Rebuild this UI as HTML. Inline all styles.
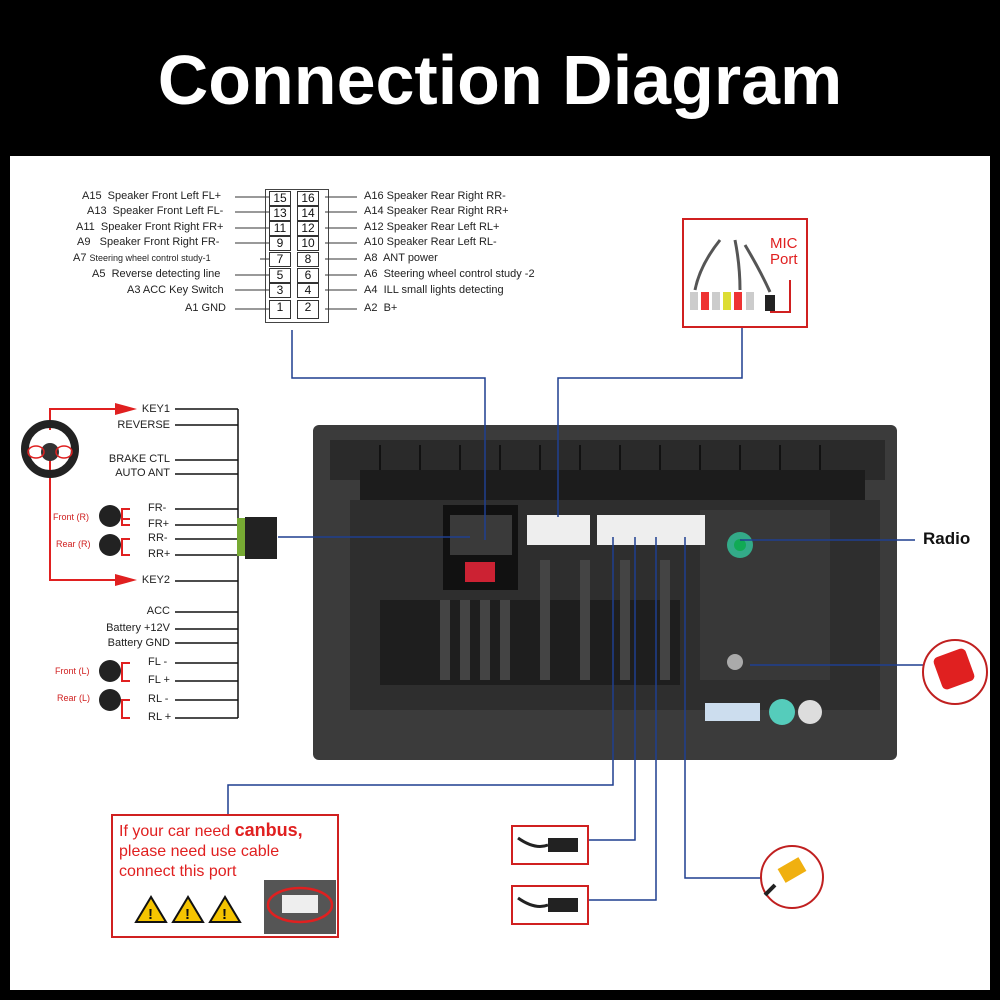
<!DOCTYPE html>
<html><head><style>
body{margin:0;width:1000px;height:1000px;background:#000;position:relative;overflow:hidden;font-family:"Liberation Sans",sans-serif}
.abs{position:absolute}
.t{position:absolute;font-size:11px;color:#222;white-space:nowrap}
.pin{position:absolute;width:20px;height:13px;border:1px solid #333;background:#fff;font-size:12px;text-align:center;line-height:13px;color:#111}
</style></head><body>
<div class="abs" style="left:0;top:40px;width:1000px;text-align:center;color:#fff;font-size:70px;font-weight:bold;line-height:80px">Connection Diagram</div>
<div class="abs" style="left:10px;top:156px;width:980px;height:834px;background:#fff"></div>

<div class="abs" style="left:265px;top:189px;width:62px;height:132px;border:1px solid #444;background:#fff"></div>
<svg class="abs" style="left:0;top:0" width="1000" height="1000">
 <g stroke="#333" stroke-width="1">
  <line x1="235" y1="197" x2="269" y2="197"/><line x1="235" y1="212" x2="269" y2="212"/>
  <line x1="235" y1="228" x2="269" y2="228"/><line x1="235" y1="243" x2="269" y2="243"/>
  <line x1="260" y1="259" x2="269" y2="259"/><line x1="235" y1="275" x2="269" y2="275"/>
  <line x1="235" y1="290" x2="269" y2="290"/><line x1="235" y1="309" x2="269" y2="309"/>
  <line x1="325" y1="197" x2="357" y2="197"/><line x1="325" y1="212" x2="357" y2="212"/>
  <line x1="325" y1="228" x2="357" y2="228"/><line x1="325" y1="243" x2="357" y2="243"/>
  <line x1="325" y1="259" x2="357" y2="259"/><line x1="325" y1="275" x2="357" y2="275"/>
  <line x1="325" y1="290" x2="357" y2="290"/><line x1="325" y1="309" x2="357" y2="309"/>
 </g>
 <g stroke="#111" stroke-width="1.5" fill="none">
  <line x1="238" y1="409" x2="238" y2="718"/>
  <line x1="175" y1="409" x2="238" y2="409"/><line x1="175" y1="425" x2="238" y2="425"/>
  <line x1="175" y1="460" x2="238" y2="460"/><line x1="175" y1="474" x2="238" y2="474"/>
  <line x1="175" y1="509" x2="238" y2="509"/><line x1="175" y1="525" x2="238" y2="525"/>
  <line x1="175" y1="539" x2="238" y2="539"/><line x1="175" y1="555" x2="238" y2="555"/>
  <line x1="175" y1="581" x2="238" y2="581"/><line x1="175" y1="612" x2="238" y2="612"/>
  <line x1="175" y1="629" x2="238" y2="629"/><line x1="175" y1="643" x2="238" y2="643"/>
  <line x1="175" y1="663" x2="238" y2="663"/><line x1="175" y1="681" x2="238" y2="681"/>
  <line x1="175" y1="700" x2="238" y2="700"/><line x1="175" y1="718" x2="238" y2="718"/>
 </g>
 <g stroke="#e02020" stroke-width="2" fill="none">
  <polyline points="50,430 50,409 120,409"/><polyline points="50,450 50,580 120,580"/>
  <polyline points="130,519 122,519 122,509 130,509"/><polyline points="122,519 122,525 130,525"/>
  <polyline points="122,545 122,539 130,539"/><polyline points="122,545 122,555 130,555"/>
  <polyline points="122,672 122,663 130,663"/><polyline points="122,672 122,681 130,681"/>
  <polyline points="122,709 122,700 130,700"/><polyline points="122,709 122,718 130,718"/>
 </g>
 <g fill="#e02020"><polygon points="115,403 137,409 115,415"/><polygon points="115,574 137,580 115,586"/></g>
 <circle cx="50" cy="449" r="25" fill="none" stroke="#222" stroke-width="8"/>
 <circle cx="50" cy="452" r="9" fill="#333"/>
 <ellipse cx="36" cy="452" rx="8" ry="6" fill="none" stroke="#e02020" stroke-width="1.5"/>
 <ellipse cx="64" cy="452" rx="8" ry="6" fill="none" stroke="#e02020" stroke-width="1.5"/>
 <g fill="#222"><circle cx="110" cy="516" r="11"/><circle cx="110" cy="545" r="11"/><circle cx="110" cy="671" r="11"/><circle cx="110" cy="700" r="11"/></g>
 <rect x="237" y="518" width="8" height="38" fill="#7a3"/>
 <rect x="245" y="517" width="32" height="42" fill="#222"/>
 <!-- head unit -->
 <rect x="313" y="425" width="584" height="335" rx="6" fill="#3b3b3b"/>
 <rect x="330" y="440" width="555" height="40" fill="#2a2a2a"/>
 <g stroke="#111" stroke-width="2"><line x1="380" y1="445" x2="380" y2="470"/><line x1="420" y1="445" x2="420" y2="470"/><line x1="460" y1="445" x2="460" y2="470"/><line x1="500" y1="445" x2="500" y2="470"/><line x1="540" y1="445" x2="540" y2="470"/><line x1="580" y1="445" x2="580" y2="470"/><line x1="620" y1="445" x2="620" y2="470"/><line x1="660" y1="445" x2="660" y2="470"/><line x1="700" y1="445" x2="700" y2="470"/><line x1="740" y1="445" x2="740" y2="470"/><line x1="780" y1="445" x2="780" y2="470"/><line x1="820" y1="445" x2="820" y2="470"/></g>
 <rect x="360" y="470" width="505" height="30" fill="#1c1c1c"/>
 <rect x="350" y="500" width="530" height="210" fill="#2e2e2e"/>
 <rect x="380" y="600" width="300" height="85" fill="#1e1e1e"/>
 <g fill="#444"><rect x="440" y="600" width="10" height="80"/><rect x="460" y="600" width="10" height="80"/><rect x="480" y="600" width="10" height="80"/><rect x="500" y="600" width="10" height="80"/><rect x="540" y="560" width="10" height="120"/><rect x="580" y="560" width="10" height="120"/><rect x="620" y="560" width="10" height="120"/><rect x="660" y="560" width="10" height="120"/></g>
 <rect x="700" y="510" width="130" height="170" fill="#383838"/>
 <rect x="443" y="505" width="75" height="85" fill="#111"/>
 <rect x="450" y="515" width="62" height="40" fill="#3a3a3a"/>
 <rect x="465" y="562" width="30" height="20" fill="#c23"/>
 <rect x="527" y="515" width="63" height="30" fill="#eee"/>
 <rect x="597" y="515" width="108" height="30" fill="#eee"/>
 <circle cx="740" cy="545" r="13" fill="#3a8"/><circle cx="740" cy="545" r="6" fill="#1a5"/>
 <circle cx="735" cy="662" r="8" fill="#aaa"/>
 <circle cx="782" cy="712" r="13" fill="#5cb"/><circle cx="810" cy="712" r="12" fill="#ddd"/>
 <rect x="705" y="703" width="55" height="18" fill="#cde"/>
 <g stroke="#1f3f8f" stroke-width="1.5" fill="none">
  <polyline points="292,330 292,378 485,378 485,540"/>
  <polyline points="742,328 742,378 558,378 558,517"/>
  <line x1="278" y1="537" x2="470" y2="537"/>
  <line x1="740" y1="540" x2="915" y2="540"/>
  <line x1="750" y1="665" x2="925" y2="665"/>
  <polyline points="613,537 613,785 228,785 228,815"/>
  <polyline points="635,537 635,840 588,840"/>
  <polyline points="656,537 656,900 588,900"/>
  <polyline points="685,537 685,878 762,878"/>
 </g>
 <rect x="683" y="219" width="124" height="108" fill="#fff" stroke="#d02020" stroke-width="2"/>
 <g fill="#ccc"><rect x="690" y="292" width="8" height="18"/><rect x="701" y="292" width="8" height="18" fill="#e33"/><rect x="712" y="292" width="8" height="18"/><rect x="723" y="292" width="8" height="18" fill="#dd3"/><rect x="734" y="292" width="8" height="18" fill="#e33"/><rect x="746" y="292" width="8" height="18"/><rect x="765" y="295" width="10" height="16" fill="#222"/></g>
 <path d="M720 240 Q700 265 695 290 M735 240 Q740 265 740 290 M745 245 Q760 270 770 292" stroke="#555" stroke-width="3" fill="none"/>
 <polyline points="770,312 790,312 790,280" stroke="#d02020" stroke-width="2" fill="none"/>
 <circle cx="955" cy="672" r="32" fill="#fff" stroke="#c02020" stroke-width="2"/>
 <rect x="937" y="652" width="34" height="34" rx="5" fill="#e02020" transform="rotate(-20 954 669)"/>
 <rect x="512" y="826" width="76" height="38" fill="#fff" stroke="#d02020" stroke-width="2"/>
 <rect x="512" y="886" width="76" height="38" fill="#fff" stroke="#d02020" stroke-width="2"/>
 <path d="M518 838 Q535 850 548 845" stroke="#222" stroke-width="3" fill="none"/><rect x="548" y="838" width="30" height="14" fill="#222"/>
 <path d="M518 898 Q535 910 548 905" stroke="#222" stroke-width="3" fill="none"/><rect x="548" y="898" width="30" height="14" fill="#222"/>
 <circle cx="792" cy="877" r="31" fill="#fff" stroke="#c02020" stroke-width="2"/>
 <rect x="780" y="862" width="24" height="16" fill="#f0b010" transform="rotate(-30 792 870)"/>
 <line x1="775" y1="885" x2="765" y2="895" stroke="#222" stroke-width="4"/>
 <rect x="112" y="815" width="226" height="122" fill="#fff" stroke="#d02020" stroke-width="2"/>
 <g fill="#f5c400" stroke="#111" stroke-width="2"><polygon points="151,897 136,922 166,922"/><polygon points="188,897 173,922 203,922"/><polygon points="225,897 210,922 240,922"/></g>
 <g fill="#111" font-family="Liberation Sans" font-weight="bold" font-size="15"><text x="148" y="919">!</text><text x="185" y="919">!</text><text x="222" y="919">!</text></g>
 <rect x="264" y="880" width="72" height="54" fill="#555"/>
 <ellipse cx="300" cy="905" rx="32" ry="17" fill="none" stroke="#e02020" stroke-width="2.5"/>
 <rect x="282" y="895" width="36" height="18" fill="#eee"/>
</svg>

<div class="t" style="left:82px;top:190px">A15&nbsp; Speaker Front Left FL+</div>
<div class="t" style="left:87px;top:205px">A13&nbsp; Speaker Front Left FL-</div>
<div class="t" style="left:76px;top:221px">A11&nbsp; Speaker Front Right FR+</div>
<div class="t" style="left:77px;top:236px">A9&nbsp;&nbsp; Speaker Front Right FR-</div>
<div class="t" style="left:73px;top:252px">A7 <span style="font-size:9px">Steering wheel control study-1</span></div>
<div class="t" style="left:92px;top:268px">A5&nbsp; Reverse detecting line</div>
<div class="t" style="left:127px;top:284px">A3 ACC Key Switch</div>
<div class="t" style="left:185px;top:302px">A1 GND</div>
<div class="t" style="left:364px;top:190px">A16 Speaker Rear Right RR-</div>
<div class="t" style="left:364px;top:205px">A14 Speaker Rear Right RR+</div>
<div class="t" style="left:364px;top:221px">A12 Speaker Rear Left RL+</div>
<div class="t" style="left:364px;top:236px">A10 Speaker Rear Left RL-</div>
<div class="t" style="left:364px;top:252px">A8&nbsp; ANT power</div>
<div class="t" style="left:364px;top:268px">A6&nbsp; Steering wheel control study -2</div>
<div class="t" style="left:364px;top:284px">A4&nbsp; ILL small lights detecting</div>
<div class="t" style="left:364px;top:302px">A2&nbsp; B+</div>

<div class="pin" style="left:269px;top:191px">15</div><div class="pin" style="left:297px;top:191px">16</div>
<div class="pin" style="left:269px;top:206px">13</div><div class="pin" style="left:297px;top:206px">14</div>
<div class="pin" style="left:269px;top:221px">11</div><div class="pin" style="left:297px;top:221px">12</div>
<div class="pin" style="left:269px;top:236px">9</div><div class="pin" style="left:297px;top:236px">10</div>
<div class="pin" style="left:269px;top:252px">7</div><div class="pin" style="left:297px;top:252px">8</div>
<div class="pin" style="left:269px;top:268px">5</div><div class="pin" style="left:297px;top:268px">6</div>
<div class="pin" style="left:269px;top:283px">3</div><div class="pin" style="left:297px;top:283px">4</div>
<div class="pin" style="left:269px;top:300px;height:17px">1</div><div class="pin" style="left:297px;top:300px;height:17px">2</div>

<div class="t" style="right:830px;top:403px">KEY1</div>
<div class="t" style="right:830px;top:419px">REVERSE</div>
<div class="t" style="right:830px;top:453px">BRAKE CTL</div>
<div class="t" style="right:830px;top:467px">AUTO ANT</div>
<div class="t" style="left:148px;top:502px">FR-</div>
<div class="t" style="left:148px;top:518px">FR+</div>
<div class="t" style="left:148px;top:532px">RR-</div>
<div class="t" style="left:148px;top:548px">RR+</div>
<div class="t" style="right:830px;top:574px">KEY2</div>
<div class="t" style="right:830px;top:605px">ACC</div>
<div class="t" style="right:830px;top:622px">Battery +12V</div>
<div class="t" style="right:830px;top:637px">Battery GND</div>
<div class="t" style="left:148px;top:656px">FL -</div>
<div class="t" style="left:148px;top:674px">FL +</div>
<div class="t" style="left:148px;top:693px">RL -</div>
<div class="t" style="left:148px;top:711px">RL +</div>
<div class="t" style="left:53px;top:512px;font-size:9px;color:#d02020">Front (R)</div>
<div class="t" style="left:56px;top:539px;font-size:9px;color:#d02020">Rear (R)</div>
<div class="t" style="left:55px;top:666px;font-size:9px;color:#d02020">Front (L)</div>
<div class="t" style="left:57px;top:693px;font-size:9px;color:#d02020">Rear (L)</div>

<div class="t" style="left:770px;top:236px;font-size:15px;color:#e02020;line-height:16px;text-align:center">MIC<br>Port</div>
<div class="t" style="left:923px;top:529px;font-size:17px;font-weight:bold;color:#111">Radio</div>
<div class="t" style="left:119px;top:820px;font-size:16px;color:#e02020;line-height:20px">If your car need <b style="font-size:18px">canbus,</b><br>please need use cable<br>connect this port</div>
</body></html>
